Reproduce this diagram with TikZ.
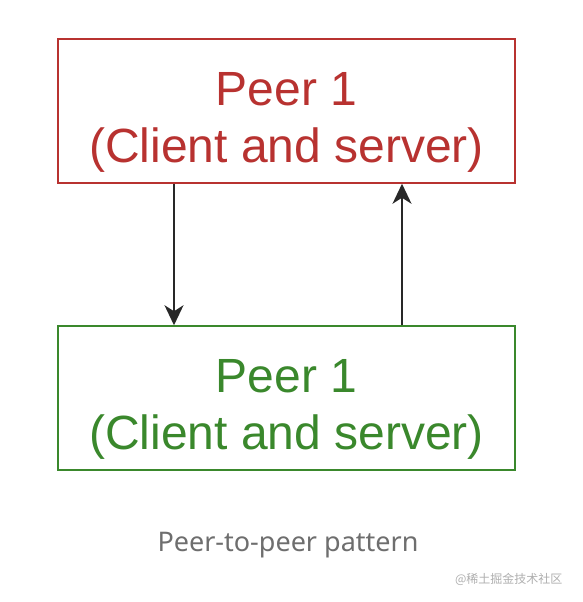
\documentclass[tikz,border=0pt]{standalone}
\usepackage{fontspec}
\setmainfont{Liberation Sans}
\newfontfamily\capfont{Noto Sans}
\newfontfamily\cjk{Noto Sans CJK SC}
\usetikzlibrary{arrows.meta}
\definecolor{peerred}{RGB}{184,50,48}
\definecolor{peergreen}{RGB}{58,136,44}
\definecolor{capgrey}{RGB}{110,110,110}
\definecolor{wmgrey}{RGB}{175,175,175}
\definecolor{linkgrey}{RGB}{40,40,40}
\tikzset{
  x=1pt,y=1pt,
  peerbox/.style={draw, line width=1.5pt, minimum width=457pt, minimum height=144pt, inner sep=0pt},
  peertext/.style={align=center, inner sep=0pt, font=\fontsize{48}{57}\selectfont},
  link/.style={line width=1.8pt, draw=linkgrey, -{Stealth[length=20pt,width=19pt,inset=6pt]}}
}
\begin{document}
\begin{tikzpicture}
\useasboundingbox[fill=white] (0,0) rectangle (582,-602);
\node[peerbox, draw=peerred] (top) at (286.5,-111) {};
\node[peertext, text=peerred, yshift=-11pt] (toptext) at (top.center) {Peer 1\\(Client and server)};
\node[peerbox, draw=peergreen] (bot) at (286.5,-398) {};
\node[peertext, text=peergreen, yshift=-11pt] (bottext) at (bot.center) {Peer 1\\(Client and server)};
\draw[link] (top.south -| 174,0) -- (bot.north -| 174,0);
\draw[link] (bot.north -| 402,0) -- (top.south -| 402,0);
\node[text=capgrey, font=\capfont\fontsize{27}{32}\selectfont] (cap) at (288,-545) {Peer-to-peer pattern};
\node[text=wmgrey, font=\cjk\fontsize{12}{14}\selectfont, anchor=east] (wm) at (566,-579) {@稀土掘金技术社区};
\end{tikzpicture}
\end{document}
